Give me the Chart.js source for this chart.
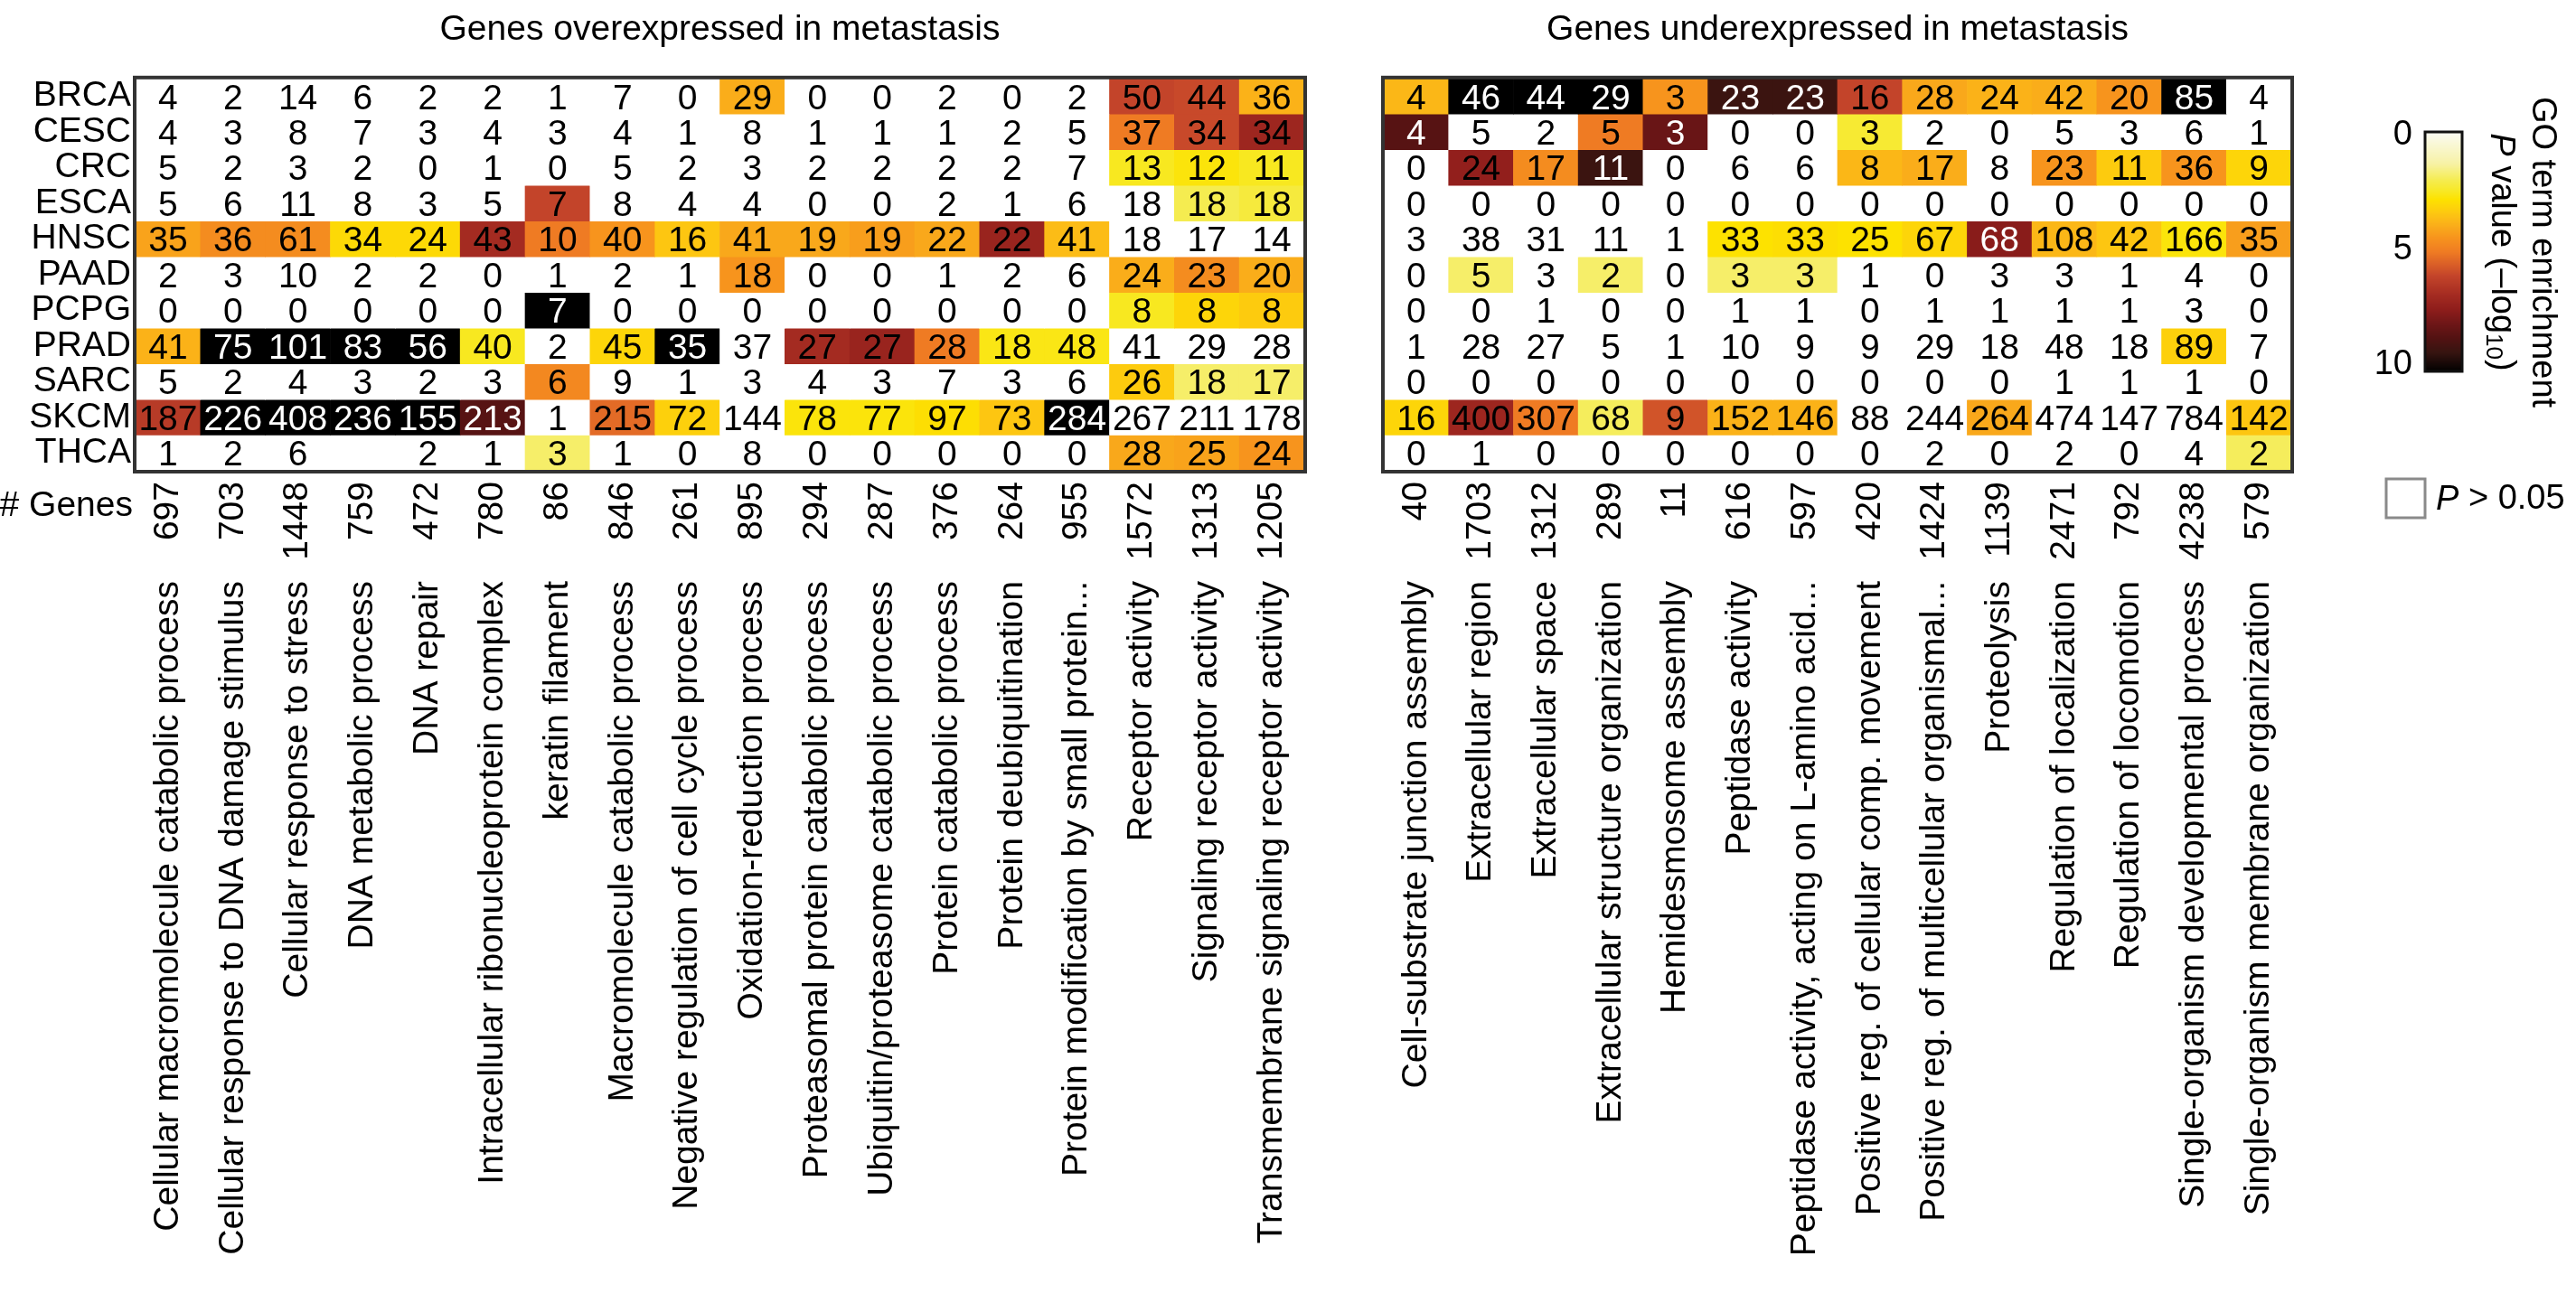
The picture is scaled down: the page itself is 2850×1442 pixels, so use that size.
<!DOCTYPE html>
<html>
<head>
<meta charset="utf-8">
<script src="https://cdn.jsdelivr.net/npm/chart.js@4.4.1/dist/chart.umd.min.js"></script>
<style>
  body { margin: 0; background: #fff; }
  #wrap { position: relative; width: 2850px; height: 1442px; }
  canvas { position: absolute; top: 0; }
</style>
</head>
<body>
<div id="wrap">
  <canvas id="up" width="1480" height="1442" style="left:0"></canvas>
  <canvas id="down" width="1370" height="1442" style="left:1480px"></canvas>
</div>
<script>
const cancers = ['BRCA', 'CESC', 'CRC', 'ESCA', 'HNSC', 'PAAD', 'PCPG', 'PRAD', 'SARC', 'SKCM', 'THCA'];

// overexpressed panel
const upTerms = [
  'Cellular macromolecule catabolic process', 'Cellular response to DNA damage stimulus',
  'Cellular response to stress', 'DNA metabolic process', 'DNA repair',
  'Intracellular ribonucleoprotein complex', 'keratin filament', 'Macromolecule catabolic process',
  'Negative regulation of cell cycle process', 'Oxidation-reduction process',
  'Proteasomal protein catabolic process', 'Ubiquitin/proteasome catabolic process',
  'Protein catabolic process', 'Protein deubiquitination', 'Protein modification by small protein...',
  'Receptor activity', 'Signaling receptor activity', 'Transmembrane signaling receptor activity'
];
const upGenes = [697, 703, 1448, 759, 472, 780, 86, 846, 261, 895, 294, 287, 376, 264, 955, 1572, 1313, 1205];
const upCounts = [
  [4, 2, 14, 6, 2, 2, 1, 7, 0, 29, 0, 0, 2, 0, 2, 50, 44, 36],
  [4, 3, 8, 7, 3, 4, 3, 4, 1, 8, 1, 1, 1, 2, 5, 37, 34, 34],
  [5, 2, 3, 2, 0, 1, 0, 5, 2, 3, 2, 2, 2, 2, 7, 13, 12, 11],
  [5, 6, 11, 8, 3, 5, 7, 8, 4, 4, 0, 0, 2, 1, 6, 18, 18, 18],
  [35, 36, 61, 34, 24, 43, 10, 40, 16, 41, 19, 19, 22, 22, 41, 18, 17, 14],
  [2, 3, 10, 2, 2, 0, 1, 2, 1, 18, 0, 0, 1, 2, 6, 24, 23, 20],
  [0, 0, 0, 0, 0, 0, 7, 0, 0, 0, 0, 0, 0, 0, 0, 8, 8, 8],
  [41, 75, 101, 83, 56, 40, 2, 45, 35, 37, 27, 27, 28, 18, 48, 41, 29, 28],
  [5, 2, 4, 3, 2, 3, 6, 9, 1, 3, 4, 3, 7, 3, 6, 26, 18, 17],
  [187, 226, 408, 236, 155, 213, 1, 215, 72, 144, 78, 77, 97, 73, 284, 267, 211, 178],
  [1, 2, 6, null, 2, 1, 3, 1, 0, 8, 0, 0, 0, 0, 0, 28, 25, 24]
];
// -log10 P, 0 = not significant
const upLogP = [
  [0, 0, 0, 0, 0, 0, 0, 0, 0, 3.9, 0, 0, 0, 0, 0, 6.0, 5.9, 3.8],
  [0, 0, 0, 0, 0, 0, 0, 0, 0, 0, 0, 0, 0, 0, 0, 5.0, 5.9, 7.0],
  [0, 0, 0, 0, 0, 0, 0, 0, 0, 0, 0, 0, 0, 0, 0, 2.5, 2.7, 2.5],
  [0, 0, 0, 0, 0, 0, 6.0, 0, 0, 0, 0, 0, 0, 0, 0, 0, 2.0, 2.2],
  [4.1, 4.6, 4.6, 3.0, 3.0, 6.8, 5.0, 4.4, 3.4, 4.0, 4.0, 4.2, 4.0, 7.1, 3.6, 0, 0, 0],
  [0, 0, 0, 0, 0, 0, 0, 0, 0, 4.4, 0, 0, 0, 0, 0, 3.9, 4.6, 3.9],
  [0, 0, 0, 0, 0, 0, 10, 0, 0, 0, 0, 0, 0, 0, 0, 2.5, 3.1, 3.3],
  [3.8, 10, 10, 10, 10, 2.5, 0, 3.1, 10, 0, 6.8, 7.1, 5.0, 2.6, 2.6, 0, 0, 0],
  [0, 0, 0, 0, 0, 0, 4.7, 0, 0, 0, 0, 0, 0, 0, 0, 3.3, 1.8, 1.8],
  [6.3, 10, 10, 10, 10, 8.5, 0, 5.3, 3.2, 0, 2.7, 2.7, 2.9, 3.4, 10, 0, 0, 0],
  [0, 0, 0, 0, 0, 0, 1.8, 0, 0, 0, 0, 0, 0, 0, 0, 4.0, 4.1, 4.4]
];

// underexpressed panel
const downTerms = [
  'Cell-substrate junction assembly', 'Extracellular region', 'Extracellular space',
  'Extracellular structure organization', 'Hemidesmosome assembly', 'Peptidase activity',
  'Peptidase activity, acting on L-amino acid...', 'Positive reg. of cellular comp. movement',
  'Positive reg. of multicellular organismal...', 'Proteolysis', 'Regulation of localization',
  'Regulation of locomotion', 'Single-organism developmental process', 'Single-organism membrane organization'
];
const downGenes = [40, 1703, 1312, 289, 11, 616, 597, 420, 1424, 1139, 2471, 792, 4238, 579];
const downCounts = [
  [4, 46, 44, 29, 3, 23, 23, 16, 28, 24, 42, 20, 85, 4],
  [4, 5, 2, 5, 3, 0, 0, 3, 2, 0, 5, 3, 6, 1],
  [0, 24, 17, 11, 0, 6, 6, 8, 17, 8, 23, 11, 36, 9],
  [0, 0, 0, 0, 0, 0, 0, 0, 0, 0, 0, 0, 0, 0],
  [3, 38, 31, 11, 1, 33, 33, 25, 67, 68, 108, 42, 166, 35],
  [0, 5, 3, 2, 0, 3, 3, 1, 0, 3, 3, 1, 4, 0],
  [0, 0, 1, 0, 0, 1, 1, 0, 1, 1, 1, 1, 3, 0],
  [1, 28, 27, 5, 1, 10, 9, 9, 29, 18, 48, 18, 89, 7],
  [0, 0, 0, 0, 0, 0, 0, 0, 0, 0, 1, 1, 1, 0],
  [16, 400, 307, 68, 9, 152, 146, 88, 244, 264, 474, 147, 784, 142],
  [0, 1, 0, 0, 0, 0, 0, 0, 2, 0, 2, 0, 4, 2]
];
const downLogP = [
  [3.7, 10, 10, 10, 4.4, 9.1, 9.1, 6.0, 4.0, 3.8, 3.9, 4.4, 10, 0],
  [8.5, 0, 0, 5.0, 8.1, 0, 0, 2.3, 0, 0, 0, 0, 0, 0],
  [0, 7.3, 4.6, 9.1, 0, 0, 0, 3.7, 3.9, 0, 4.4, 3.3, 4.4, 3.1],
  [0, 0, 0, 0, 0, 0, 0, 0, 0, 0, 0, 0, 0, 0],
  [0, 0, 0, 0, 0, 2.8, 2.9, 2.8, 3.1, 7.5, 3.7, 3.4, 2.7, 4.2],
  [0, 1.8, 0, 1.8, 0, 1.8, 1.8, 0, 0, 0, 0, 0, 0, 0],
  [0, 0, 0, 0, 0, 0, 0, 0, 0, 0, 0, 0, 0, 0],
  [0, 0, 0, 0, 0, 0, 0, 0, 0, 0, 0, 0, 3.2, 0],
  [0, 0, 0, 0, 0, 0, 0, 0, 0, 0, 0, 0, 0, 0],
  [3.1, 7.0, 5.0, 1.9, 5.7, 3.8, 3.8, 0, 0, 4.0, 0, 0, 0, 3.4],
  [0, 0, 0, 0, 0, 0, 0, 0, 0, 0, 0, 0, 0, 1.9]
];

const legendTicks = [0, 5, 10];

const FONT = "'Liberation Sans', Arial, sans-serif";
Chart.defaults.font.family = FONT;
Chart.defaults.font.size = 39;
Chart.defaults.color = '#000';

// white -> yellow -> orange -> red -> black
const stops = [
  [0, '#fbfbf3'], [1.3, '#f7f2a6'], [2.0, '#f5ec50'], [2.5, '#f8e820'], [2.8, '#fde200'],
  [3.2, '#fdd00c'], [3.6, '#fcbc16'], [4.0, '#f9a81b'], [4.4, '#f7941d'], [5.0, '#ef7b23'],
  [5.6, '#d65a28'], [6.0, '#c3442a'], [6.8, '#a42b21'], [7.4, '#8e1d1b'], [8.0, '#6e1617'],
  [8.6, '#521212'], [9.2, '#361410'], [10, '#000000']
];
function rgb(h) {
  return [1, 3, 5].map(i => parseInt(h.slice(i, i + 2), 16));
}
function cmap(v) {
  v = Math.max(0, Math.min(10, v));
  for (let i = 1; i < stops.length; i++) {
    if (v <= stops[i][0]) {
      const t = (v - stops[i - 1][0]) / (stops[i][0] - stops[i - 1][0]);
      const a = rgb(stops[i - 1][1]), b = rgb(stops[i][1]);
      const c = a.map((x, k) => Math.round(x + (b[k] - x) * t));
      return 'rgb(' + c.join(',') + ')';
    }
  }
  return '#000';
}
const cellColor = v => (v < 1.3 ? '#ffffff' : cmap(v));

function makePanel(id, title, terms, genes, counts, logP, showRows, padLeft, padRight, extra) {
  const datasets = cancers.map((name, r) => ({
    label: name,
    data: counts[r].map(() => 1),
    backgroundColor: logP[r].map(cellColor),
    borderWidth: 0,
    barPercentage: 1,
    categoryPercentage: 1
  }));

  const scales = {
    x: {
      type: 'category', position: 'bottom', stacked: true, offset: true, weight: 0,
      grid: { display: false, drawTicks: false }, border: { display: false },
      ticks: { autoSkip: false, minRotation: 90, maxRotation: 90, padding: 12,
               callback: (v, i) => String(genes[i]) },
      afterFit: s => { s.height = 122; s.paddingLeft = 0; s.paddingRight = 0; }
    },
    names: {
      type: 'category', position: 'bottom', offset: true, weight: 1,
      grid: { display: false, drawTicks: false }, border: { display: false },
      ticks: { autoSkip: false, minRotation: 90, maxRotation: 90, padding: 0 },
      afterFit: s => { s.height = 799; s.paddingLeft = 0; s.paddingRight = 0; }
    },
    y: { type: 'linear', stacked: true, min: 0, max: cancers.length, reverse: true, display: false }
  };
  if (showRows) {
    scales.rows = {
      type: 'category', labels: cancers, position: 'left', offset: true,
      grid: { display: false, drawTicks: false }, border: { display: false },
      ticks: { autoSkip: false, padding: 5 },
      afterFit: s => { s.width = 150; s.paddingTop = 0; s.paddingBottom = 0; }
    };
  }

  const cellText = {
    id: 'cellText',
    afterDatasetsDraw(chart) {
      const ctx = chart.ctx;
      ctx.save();
      ctx.font = '39px ' + FONT;
      ctx.textAlign = 'center';
      ctx.textBaseline = 'alphabetic';
      counts.forEach((row, r) => {
        const meta = chart.getDatasetMeta(r);
        row.forEach((n, c) => {
          if (n === null) return;
          const bar = meta.data[c];
          ctx.fillStyle = logP[r][c] >= 7.45 ? '#fff' : '#000';
          ctx.fillText(String(n), bar.x, (bar.y + bar.base) / 2 + 14);
        });
      });
      const a = chart.chartArea;
      ctx.strokeStyle = '#333';
      ctx.lineWidth = 4;
      ctx.strokeRect(a.left - 1, a.top - 1, a.right - a.left + 2, a.bottom - a.top + 2);
      if (extra) extra(ctx, chart);
      ctx.restore();
    }
  };

  return new Chart(document.getElementById(id), {
    type: 'bar',
    data: { labels: terms, datasets },
    options: {
      responsive: false,
      animation: false,
      layout: { padding: { left: padLeft, right: padRight, top: 0, bottom: 0 } },
      plugins: {
        legend: { display: false },
        tooltip: { enabled: false },
        title: {
          display: true, text: title, fullSize: false,
          font: { size: 39, weight: 'normal', lineHeight: 1.2 },
          padding: { top: 10, bottom: 30 }
        }
      },
      scales
    },
    plugins: [cellText]
  });
}

makePanel('up', 'Genes overexpressed in metastasis', upTerms, upGenes, upCounts, upLogP, true, 0, 37,
  ctx => {
    ctx.fillStyle = '#000';
    ctx.font = '39px ' + FONT;
    ctx.textAlign = 'right';
    ctx.textBaseline = 'middle';
    ctx.fillText('# Genes', 147, 560);
  });

makePanel('down', 'Genes underexpressed in metastasis', downTerms, downGenes, downCounts, downLogP, false, 51, 315,
  ctx => {
    // colour bar
    const bx = 1203, bw = 41, top = 146, bot = 411;
    for (let y = top; y < bot; y++) {
      ctx.fillStyle = cmap((y - top) / (bot - top) * 10);
      ctx.fillRect(bx, y, bw, 1);
    }
    ctx.strokeStyle = '#111';
    ctx.lineWidth = 3;
    ctx.strokeRect(bx, top, bw, bot - top);
    ctx.fillStyle = '#000';
    ctx.font = '38px ' + FONT;
    ctx.textAlign = 'right';
    ctx.textBaseline = 'middle';
    legendTicks.forEach(t => {
      ctx.fillText(String(t), 1189, 150 + t / 10 * (404 - 150));
    });

    // colour bar title, rotated
    ctx.save();
    ctx.translate(1332, 279);
    ctx.rotate(Math.PI / 2);
    ctx.textAlign = 'center';
    ctx.fillText('GO term enrichment', 0, 0);
    ctx.restore();

    ctx.save();
    ctx.translate(1287, 279);
    ctx.rotate(Math.PI / 2);
    ctx.textAlign = 'left';
    const parts = [
      ['P', 'italic 38px ' + FONT, 0],
      [' value (\u2013log', '38px ' + FONT, 0],
      ['10', '26px ' + FONT, 9],
      [')', '38px ' + FONT, 0]
    ];
    let total = 0;
    parts.forEach(p => { ctx.font = p[1]; total += ctx.measureText(p[0]).width; });
    let x = -total / 2;
    parts.forEach(p => {
      ctx.font = p[1];
      ctx.fillText(p[0], x, p[2]);
      x += ctx.measureText(p[0]).width;
    });
    ctx.restore();

    // P > 0.05 key
    ctx.fillStyle = '#fff';
    ctx.fillRect(1160, 530, 43, 43);
    ctx.strokeStyle = '#8a8a8a';
    ctx.lineWidth = 3;
    ctx.strokeRect(1160, 530, 43, 43);
    ctx.fillStyle = '#000';
    ctx.textAlign = 'left';
    ctx.font = 'italic 38px ' + FONT;
    ctx.fillText('P', 1215, 553);
    const pw = ctx.measureText('P').width;
    ctx.font = '38px ' + FONT;
    ctx.fillText(' > 0.05', 1215 + pw, 553);
  });
</script>
</body>
</html>
